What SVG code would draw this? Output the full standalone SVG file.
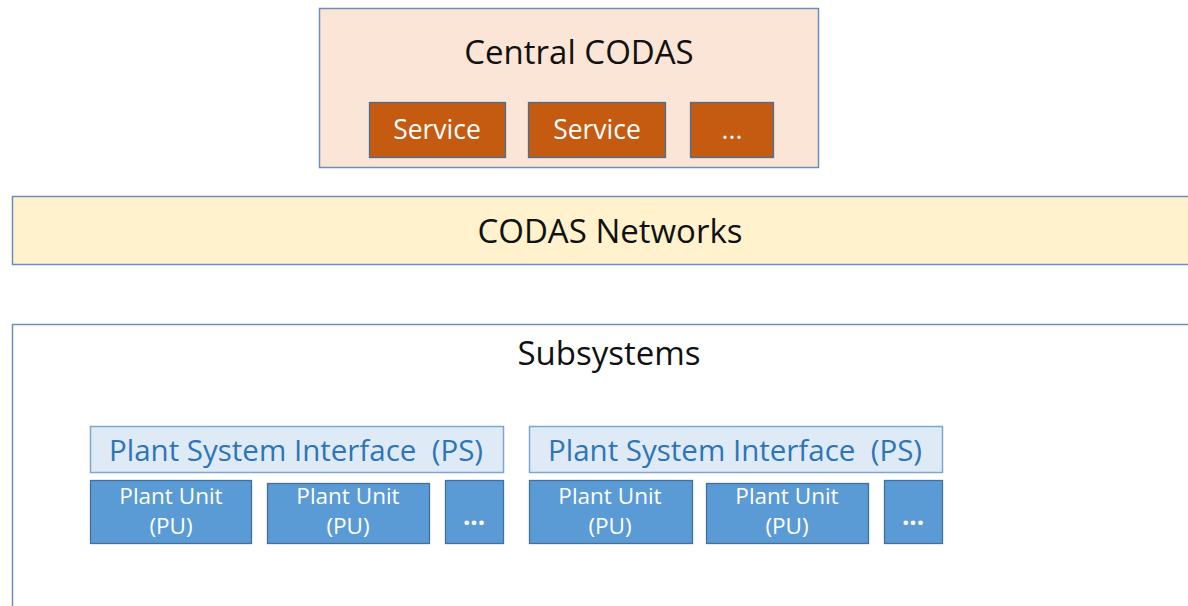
<svg xmlns="http://www.w3.org/2000/svg" width="1188" height="606" viewBox="0 0 1188 606">
<style>
text{font-family:"Open Sans","Noto Sans","Liberation Sans",sans-serif;text-anchor:middle;dominant-baseline:central}
.frame{stroke:#6C8EBF;stroke-width:1.5}
.svc{fill:#C55A11;stroke:#41719C;stroke-width:1.3}
.svct{fill:#FFFFFF;font-size:26.5px}
.ps{fill:#DEEBF7;stroke:#7EA6CF;stroke-width:1.5}
.pst{fill:#2E75B6;font-size:29.5px}
.pu{fill:#5B9BD5;stroke:#41719C;stroke-width:1.3}
.put{fill:#FFFFFF;font-size:22.5px}
.dots{fill:#FFFFFF;font-size:26px;font-weight:bold}
.big{fill:#111111;font-size:33px}
</style>
<rect width="1188" height="606" fill="#FFFFFF"/>
<g id="central">
<rect x="319.5" y="8.5" width="499" height="159" fill="#FBE5D6" class="frame"/>
<text x="579" y="51" class="big">Central CODAS</text>
</g>
<g id="service1"><rect x="369.5" y="102.5" width="136" height="55" class="svc"/><text x="437" y="129" class="svct">Service</text></g>
<g id="service2"><rect x="528.5" y="102.5" width="137" height="55" class="svc"/><text x="597" y="129" class="svct">Service</text></g>
<g id="service3"><rect x="690.5" y="102.5" width="83" height="55" class="svc"/><text x="732" y="129" class="svct">...</text></g>
<g id="networks">
<rect x="12.5" y="196.5" width="1190" height="68" fill="#FFF2CC" class="frame"/>
<text x="610" y="230" class="big">CODAS Networks</text>
</g>
<g id="subsystems">
<rect x="12.5" y="324.5" width="1190" height="300" fill="#FFFFFF" class="frame"/>
<text x="609" y="352" class="big">Subsystems</text>
</g>
<g id="ps1"><rect x="90.5" y="426.5" width="413" height="46" class="ps"/><text x="296" y="449" class="pst">Plant System Interface&#160; (PS)</text></g>
<g id="pu1"><rect x="90.5" y="480.5" width="161" height="63" class="pu"/><text x="171" y="495" class="put">Plant Unit</text><text x="171" y="525" class="put">(PU)</text></g>
<g id="pu2"><rect x="267.5" y="483.5" width="162" height="60" class="pu"/><text x="348" y="495" class="put">Plant Unit</text><text x="348" y="525" class="put">(PU)</text></g>
<g id="pu3"><rect x="445.5" y="480.5" width="58" height="63" class="pu"/><text x="474" y="515" class="dots">...</text></g>
<g id="ps2"><rect x="529.5" y="426.5" width="413" height="46" class="ps"/><text x="735" y="449" class="pst">Plant System Interface&#160; (PS)</text></g>
<g id="pu4"><rect x="529.5" y="480.5" width="163" height="63" class="pu"/><text x="610" y="495" class="put">Plant Unit</text><text x="610" y="525" class="put">(PU)</text></g>
<g id="pu5"><rect x="706.5" y="483.5" width="162" height="60" class="pu"/><text x="787" y="495" class="put">Plant Unit</text><text x="787" y="525" class="put">(PU)</text></g>
<g id="pu6"><rect x="884.5" y="480.5" width="58" height="63" class="pu"/><text x="913" y="515" class="dots">...</text></g>
<g id="connectors"></g>
</svg>
